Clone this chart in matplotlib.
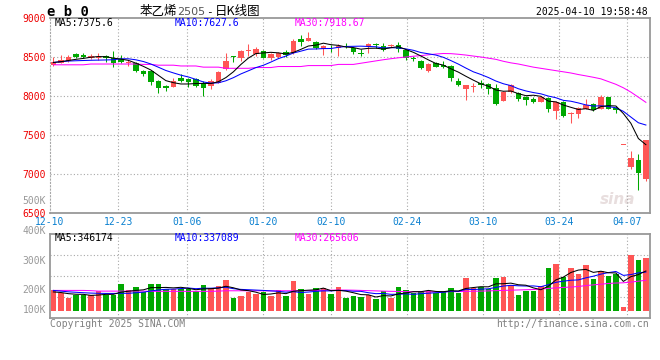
import numpy as np
import matplotlib
matplotlib.use('Agg')
import matplotlib.pyplot as plt

# date labels and their trading-day index
dates = ['12-10', '12-23', '01-06', '01-20', '02-10', '02-24', '03-10', '03-24', '04-07']
date_idx = [0, 9, 18, 28, 37, 47, 57, 67, 76]

# daily OHLC
opens = [8398, 8428, 8449, 8534, 8530, 8483, 8492, 8517, 8483, 8475,
         8419, 8419, 8321, 8321, 8197, 8133, 8120, 8236, 8214, 8219,
         8165, 8122, 8173, 8342, 8511, 8490, 8581, 8539, 8577, 8490,
         8500, 8566, 8550, 8731, 8707, 8695, 8603, 8620, 8613, 8660,
         8620, 8547, 8633, 8663, 8641, 8645, 8654, 8585, 8487, 8450,
         8322, 8419, 8397, 8384, 8192, 8094, 8115, 8170, 8153, 8098,
         7938, 8047, 8034, 7991, 7966, 7927, 7970, 7812, 7927, 7770,
         7775, 7838, 7897, 7831, 7981, 7842, 7372, 7086, 7180, 6936]
highs = [8496, 8526, 8526, 8547, 8547, 8539, 8556, 8526, 8577, 8526,
         8462, 8432, 8334, 8334, 8206, 8137, 8227, 8278, 8227, 8227,
         8190, 8214, 8325, 8545, 8513, 8592, 8667, 8624, 8586, 8554,
         8560, 8592, 8729, 8785, 8818, 8703, 8652, 8652, 8662, 8684,
         8633, 8599, 8675, 8675, 8684, 8667, 8688, 8600, 8508, 8461,
         8423, 8440, 8448, 8397, 8234, 8141, 8162, 8205, 8162, 8149,
         8070, 8150, 8056, 8000, 7983, 7992, 7983, 7940, 7940, 7800,
         7855, 7957, 7906, 8013, 7983, 7872, 7372, 7300, 7256, 7436]
lows = [8390, 8419, 8440, 8483, 8483, 8470, 8462, 8440, 8376, 8428,
        8385, 8312, 8261, 8141, 8043, 8069, 8110, 8184, 8120, 8120,
        8003, 8084, 8167, 8336, 8436, 8453, 8507, 8518, 8481, 8464,
        8490, 8503, 8539, 8645, 8699, 8598, 8528, 8566, 8511, 8620,
        8534, 8513, 8547, 8611, 8581, 8624, 8569, 8465, 8450, 8346,
        8307, 8367, 8354, 8192, 8132, 7948, 8046, 8106, 8025, 7884,
        7930, 8040, 7940, 7890, 7906, 7920, 7799, 7710, 7727, 7650,
        7722, 7838, 7812, 7829, 7829, 7778, 7372, 7064, 6795, 6915]
closes = [8440, 8462, 8496, 8505, 8505, 8517, 8505, 8483, 8419, 8440,
          8440, 8325, 8278, 8184, 8099, 8099, 8193, 8197, 8184, 8129,
          8105, 8186, 8314, 8451, 8494, 8581, 8590, 8605, 8490, 8536,
          8553, 8520, 8707, 8690, 8746, 8610, 8643, 8609, 8645, 8648,
          8569, 8534, 8667, 8650, 8590, 8654, 8603, 8482, 8476, 8354,
          8412, 8375, 8376, 8234, 8140, 8141, 8125, 8140, 8085, 7897,
          8056, 8135, 7966, 7952, 7927, 7988, 7833, 7927, 7746, 7783,
          7842, 7885, 7820, 7991, 7838, 7820, 7372, 7201, 7009, 7436]

ma5 = [8430, 8440, 8455, 8470, 8482, 8497, 8506, 8503, 8486, 8473,
       8457, 8421, 8380, 8333, 8265, 8197, 8171, 8154, 8154, 8160,
       8162, 8160, 8183, 8236, 8310, 8404, 8486, 8544, 8552, 8560,
       8553, 8539, 8559, 8598, 8641, 8652, 8677, 8658, 8649, 8628,
       8621, 8600, 8611, 8613, 8602, 8619, 8633, 8596, 8560, 8513,
       8463, 8417, 8396, 8349, 8306, 8253, 8203, 8156, 8126, 8077,
       8061, 8064, 8030, 8004, 8010, 7996, 7934, 7925, 7884, 7855,
       7827, 7837, 7816, 7864, 7876, 7872, 7775, 7650, 7455, 7376]
ma10 = [8430, 8440, 8448, 8452, 8455, 8458, 8460, 8462, 8465, 8477,
        8477, 8464, 8442, 8410, 8369, 8327, 8296, 8267, 8244, 8213,
        8180, 8165, 8169, 8195, 8235, 8283, 8323, 8364, 8394, 8435,
        8479, 8512, 8551, 8575, 8601, 8603, 8608, 8609, 8624, 8635,
        8637, 8639, 8635, 8631, 8615, 8620, 8616, 8604, 8586, 8557,
        8541, 8525, 8496, 8454, 8409, 8358, 8310, 8276, 8237, 8192,
        8157, 8133, 8093, 8065, 8044, 8028, 7999, 7978, 7944, 7933,
        7911, 7886, 7871, 7874, 7865, 7849, 7803, 7730, 7657, 7628]
ma30 = [8400, 8400, 8400, 8400, 8400, 8410, 8410, 8410, 8410, 8410,
        8410, 8410, 8405, 8405, 8395, 8395, 8395, 8385, 8385, 8385,
        8370, 8370, 8370, 8355, 8355, 8355, 8355, 8365, 8365, 8365,
        8378, 8378, 8378, 8378, 8390, 8390, 8390, 8390, 8405, 8405,
        8405, 8420, 8435, 8450, 8465, 8478, 8490, 8500, 8510, 8518,
        8528, 8538, 8545, 8543, 8535, 8525, 8512, 8500, 8485, 8470,
        8445, 8425, 8410, 8390, 8370, 8355, 8340, 8325, 8310, 8295,
        8275, 8258, 8240, 8220, 8185, 8150, 8105, 8050, 7985, 7919]

# volume (thousands)
vol = [179, 156, 112, 136, 136, 136, 170, 141, 136, 231,
       179, 205, 164, 231, 231, 187, 187, 187, 187, 173,
       222, 196, 213, 265, 110, 127, 164, 150, 164, 130,
       179, 127, 257, 187, 150, 196, 202, 144, 205, 112,
       127, 121, 136, 107, 173, 115, 208, 179, 159, 173,
       173, 159, 173, 199, 159, 285, 199, 208, 193, 288,
       294, 222, 136, 173, 173, 216, 372, 409, 294, 372,
       323, 401, 280, 346, 303, 317, 35, 482, 438, 458]
vma5 = [165, 160, 150, 145, 144, 135, 138, 144, 144, 163,
        171, 178, 183, 202, 202, 204, 200, 205, 196, 184,
        191, 193, 198, 214, 201, 182, 176, 163, 143, 147,
        157, 150, 171, 176, 180, 183, 198, 176, 179, 172,
        158, 142, 140, 121, 133, 130, 148, 156, 167, 167,
        178, 169, 167, 175, 173, 195, 203, 210, 209, 235,
        236, 241, 227, 223, 200, 184, 214, 269, 293, 333,
        354, 360, 334, 344, 331, 329, 256, 297, 315, 346]
vma10 = [178, 172, 166, 162, 158, 155, 153, 152, 152, 153,
         153, 158, 163, 173, 182, 188, 189, 194, 199, 193,
         197, 197, 201, 205, 193, 187, 184, 181, 178, 174,
         170, 163, 167, 160, 164, 170, 174, 174, 178, 176,
         171, 170, 158, 150, 152, 144, 145, 148, 144, 150,
         154, 158, 162, 171, 170, 187, 186, 189, 192, 204,
         216, 222, 218, 216, 217, 210, 228, 248, 258, 266,
         269, 287, 301, 319, 332, 342, 308, 315, 330, 337]
vma30 = [178, 178, 178, 178, 178, 176, 172, 172, 172, 172,
         172, 172, 172, 170, 170, 170, 170, 170, 170, 170,
         170, 170, 172, 175, 175, 175, 175, 175, 175, 174,
         175, 175, 175, 176, 177, 178, 179, 180, 181, 181,
         180, 178, 176, 174, 172, 170, 169, 168, 167, 166,
         166, 166, 167, 168, 168, 170, 171, 172, 174, 176,
         178, 180, 182, 184, 186, 190, 195, 200, 204, 207,
         212, 220, 226, 232, 238, 242, 244, 250, 258, 266]

RED = '#ff5555'
GREEN = '#00a800'
GRID = '#a8a8a8'
MONO = 'DejaVu Sans Mono'
CJK = ['Noto Sans CJK SC', 'DejaVu Sans']
LW = 0.75

W, H = 660, 360
fig = plt.figure(figsize=(W / 100, H / 100), dpi=100)
fig.patch.set_facecolor('white')


def ftext(x, y, s, **kw):
    kw.setdefault('family', MONO)
    kw.setdefault('size', 7)
    kw.setdefault('va', 'center')
    fig.text(x / W, 1 - y / H, s, **kw)


n = len(closes)
x = np.arange(n) + 0.45
o = np.array(opens)
c = np.array(closes)
up = c >= o
colors = np.where(up, RED, GREEN)
grid_x = [d * n / (n - 1) for d in date_idx]

# ---- price panel
ax1 = fig.add_axes([50 / W, 1 - 213 / H, 600 / W, 195 / H])
ax1.set_xlim(0, n)
ax1.set_ylim(6500, 9000)
ax1.vlines(x, lows, highs, colors=colors, lw=LW, zorder=2)
ax1.bar(x, np.maximum(np.abs(c - o), 10), bottom=np.minimum(o, c), width=0.75,
        color=colors, linewidth=0, zorder=3)
ax1.plot(x, ma30, color='#ff00ff', lw=LW, zorder=4)
ax1.plot(x, ma10, color='#0000ff', lw=LW, zorder=4)
ax1.plot(x, ma5, color='black', lw=LW, zorder=4)

ax1.set_yticks([6500, 7000, 7500, 8000, 8500, 9000])
ax1.set_yticklabels(['6500', '7000', '7500', '8000', '8500', '9000'],
                    family=MONO, size=7, color='#ee0000')
ax1.set_xticks(grid_x)
ax1.set_xticklabels(dates, family=MONO, size=7, color='#0a80d0')
ax1.tick_params(length=0, pad=3)
for yv in [7000, 7500, 8000, 8500]:
    ax1.axhline(yv, color=GRID, lw=0.8, ls=(0, (1, 2)), zorder=1)
for gx in grid_x[1:]:
    ax1.axvline(gx, color=GRID, lw=0.8, ls=(0, (1, 2)), zorder=1)
for s in ['top', 'right', 'bottom']:
    ax1.spines[s].set_color('#999999')
    ax1.spines[s].set_linewidth(1.3)
ax1.spines['left'].set_color(GRID)
ax1.spines['left'].set_linestyle((0, (1, 2)))
ax1.spines['left'].set_linewidth(0.8)
ax1.text(0.975, 0.07, 'sina', transform=ax1.transAxes, ha='right', va='center',
         size=11, style='italic', weight='bold', color='#e8dede', zorder=0)

# ---- volume panel
v = np.array(vol) * 1000
ax2 = fig.add_axes([50 / W, 1 - 318 / H, 600 / W, 84 / H])
ax2.set_xlim(0, n)
vlo, vhi = -60550, 666050
ax2.set_ylim(vlo, vhi)
ax2.bar(x, v, width=0.75, color=colors, linewidth=0, zorder=3)
ax2.plot(x, np.array(vma30) * 1000, color='#ff00ff', lw=LW, zorder=4)
ax2.plot(x, np.array(vma10) * 1000, color='#0000ff', lw=LW, zorder=4)
ax2.plot(x, np.array(vma5) * 1000, color='black', lw=LW, zorder=4)
ax2.set_xticks([])
ax2.set_yticks([])
for k in (1, 2, 3):
    ax2.axhline(vlo + k * (vhi - vlo) / 4, color=GRID, lw=0.8, ls=(0, (1, 2)), zorder=1)
for gx in grid_x[1:]:
    ax2.axvline(gx, color=GRID, lw=0.8, ls=(0, (1, 2)), zorder=1)
for s in ['top', 'right', 'bottom', 'left']:
    ax2.spines[s].set_color('#999999')
    ax2.spines[s].set_linewidth(1.3)

# ---- texts
ftext(47, 12, 'e b 0', size=10, weight='bold')
ftext(140, 12, '苯乙烯', family=CJK, size=9)
ftext(177, 12, '2505', family='DejaVu Sans', size=8, color='#555555')
ftext(206, 12, '-', size=8)
ftext(215, 12, '日K线图', family=CJK, size=9)
ftext(648, 12, '2025-04-10 19:58:48', ha='right')

ftext(55, 23, 'MA5:7375.6', color='black')
ftext(175, 23, 'MA10:7627.6', color='#0000ff')
ftext(295, 23, 'MA30:7918.67', color='#ff00ff')
ftext(55, 238, 'MA5:346174', color='black')
ftext(175, 238, 'MA10:337089', color='#0000ff')
ftext(295, 238, 'MA30:265606', color='#ff00ff')

vol_labels = ['500K', '400K', '300K', '200K', '100K']
vol_label_y = [201, 231, 261, 290, 310]
for lab, yy in zip(vol_labels, vol_label_y):
    ftext(46, yy, lab, ha='right', color='#999999')

ftext(50, 324, 'Copyright 2025 SINA.COM', color='#808080')
ftext(649, 324, 'http://finance.sina.com.cn', ha='right', color='#808080')

fig.savefig('out.png', dpi=100)
